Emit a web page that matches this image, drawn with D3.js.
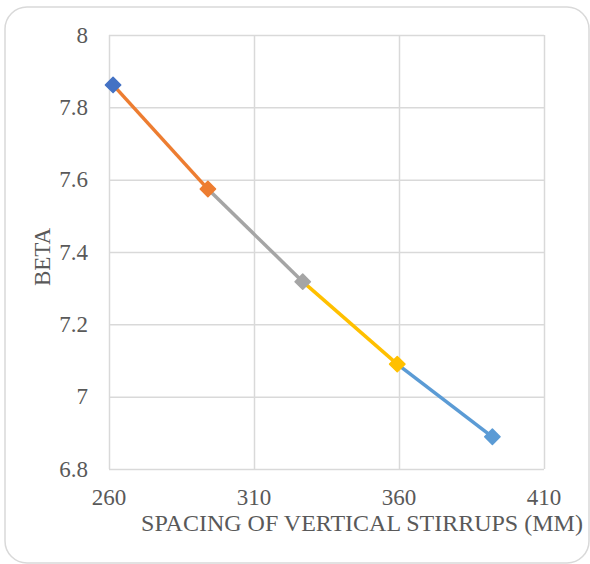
<!DOCTYPE html>
<html>
<head>
<meta charset="utf-8">
<script src="https://cdn.jsdelivr.net/npm/d3@7"></script>
<style>
  html, body { margin: 0; padding: 0; background: #fff; }
  svg { display: block; }
</style>
</head>
<body>
<svg id="chart" width="590" height="564"></svg>
<script>
// Reliability index (beta) against stirrup spacing
const spacing = [261.4, 294.1, 326.8, 359.4, 392.2];
const beta = [7.862, 7.574, 7.318, 7.090, 6.889];
const pointColors = ["#4472C4", "#ED7D31", "#A5A5A5", "#FFC000", "#5B9BD5"];
const xTicks = [260, 310, 360, 410];
const yTicks = [6.8, 7, 7.2, 7.4, 7.6, 7.8, 8];
const xTitle = "SPACING OF VERTICAL STIRRUPS (MM)";
const yTitle = "BETA";

const svg = d3.select("#chart");
const plot = { left: 109, right: 544, top: 35, bottom: 469 };
const textColor = "#595959";
const gridColor = "#D9D9D9";
const font = "'Liberation Serif', 'Times New Roman', serif";

// outer chart frame
svg.append("rect")
  .attr("x", 5).attr("y", 7)
  .attr("width", 584).attr("height", 556)
  .attr("rx", 22).attr("ry", 22)
  .attr("fill", "#fff")
  .attr("stroke", gridColor).attr("stroke-width", 1.5);

const x = d3.scaleLinear().domain([260, 410]).range([plot.left, plot.right]);
const y = d3.scaleLinear().domain([6.8, 8]).range([plot.bottom, plot.top]);

// gridlines
const xAxis = d3.axisBottom(x).tickValues(xTicks)
  .tickSize(-(plot.bottom - plot.top)).tickFormat("");
const yAxis = d3.axisLeft(y).tickValues(yTicks)
  .tickSize(-(plot.right - plot.left)).tickFormat("");

const gx = svg.append("g").attr("transform", `translate(0,${plot.bottom})`).call(xAxis);
const gy = svg.append("g").attr("transform", `translate(${plot.left},0)`).call(yAxis);
[gx, gy].forEach(g => {
  g.select(".domain").remove();
  g.selectAll(".tick line").attr("stroke", gridColor).attr("stroke-width", 1.5);
});

// tick labels
svg.append("g").selectAll("text").data(xTicks).join("text")
  .attr("x", d => x(d)).attr("y", 505)
  .attr("text-anchor", "middle")
  .attr("font-family", font).attr("font-size", 23)
  .attr("fill", textColor)
  .text(d => d);

svg.append("g").selectAll("text").data(yTicks).join("text")
  .attr("x", 88).attr("y", d => y(d) + 7.5)
  .attr("text-anchor", "end")
  .attr("font-family", font).attr("font-size", 23)
  .attr("fill", textColor)
  .text(d => d3.format("~g")(d));

// axis titles
svg.append("text")
  .attr("x", 362).attr("y", 531)
  .attr("text-anchor", "middle")
  .attr("font-family", font).attr("font-size", 24)
  .attr("fill", textColor)
  .text(xTitle);

svg.append("text")
  .attr("transform", `translate(50,${(plot.top + plot.bottom) / 2 + 5}) rotate(-90)`)
  .attr("text-anchor", "middle")
  .attr("font-family", font).attr("font-size", 23)
  .attr("fill", textColor)
  .text(yTitle);

// one segment per series, coloured by the series that ends it
const pts = spacing.map((s, i) => ({ x: s, y: beta[i], color: pointColors[i] }));
const line = d3.line().x(d => x(d.x)).y(d => y(d.y));
const segs = d3.pairs(pts);
svg.append("g").selectAll("path").data(segs).join("path")
  .attr("d", d => line(d))
  .attr("fill", "none")
  .attr("stroke", d => d[1].color)
  .attr("stroke-width", 3.5);

// diamond markers
const diamond = d3.symbol().type(d3.symbolDiamond2).size(150);
svg.append("g").selectAll("path").data(pts).join("path")
  .attr("d", diamond)
  .attr("transform", d => `translate(${x(d.x)},${y(d.y)})`)
  .attr("fill", d => d.color)
  .attr("stroke", d => d.color)
  .attr("stroke-width", 1.5)
  .attr("stroke-linejoin", "round");
</script>
</body>
</html>
